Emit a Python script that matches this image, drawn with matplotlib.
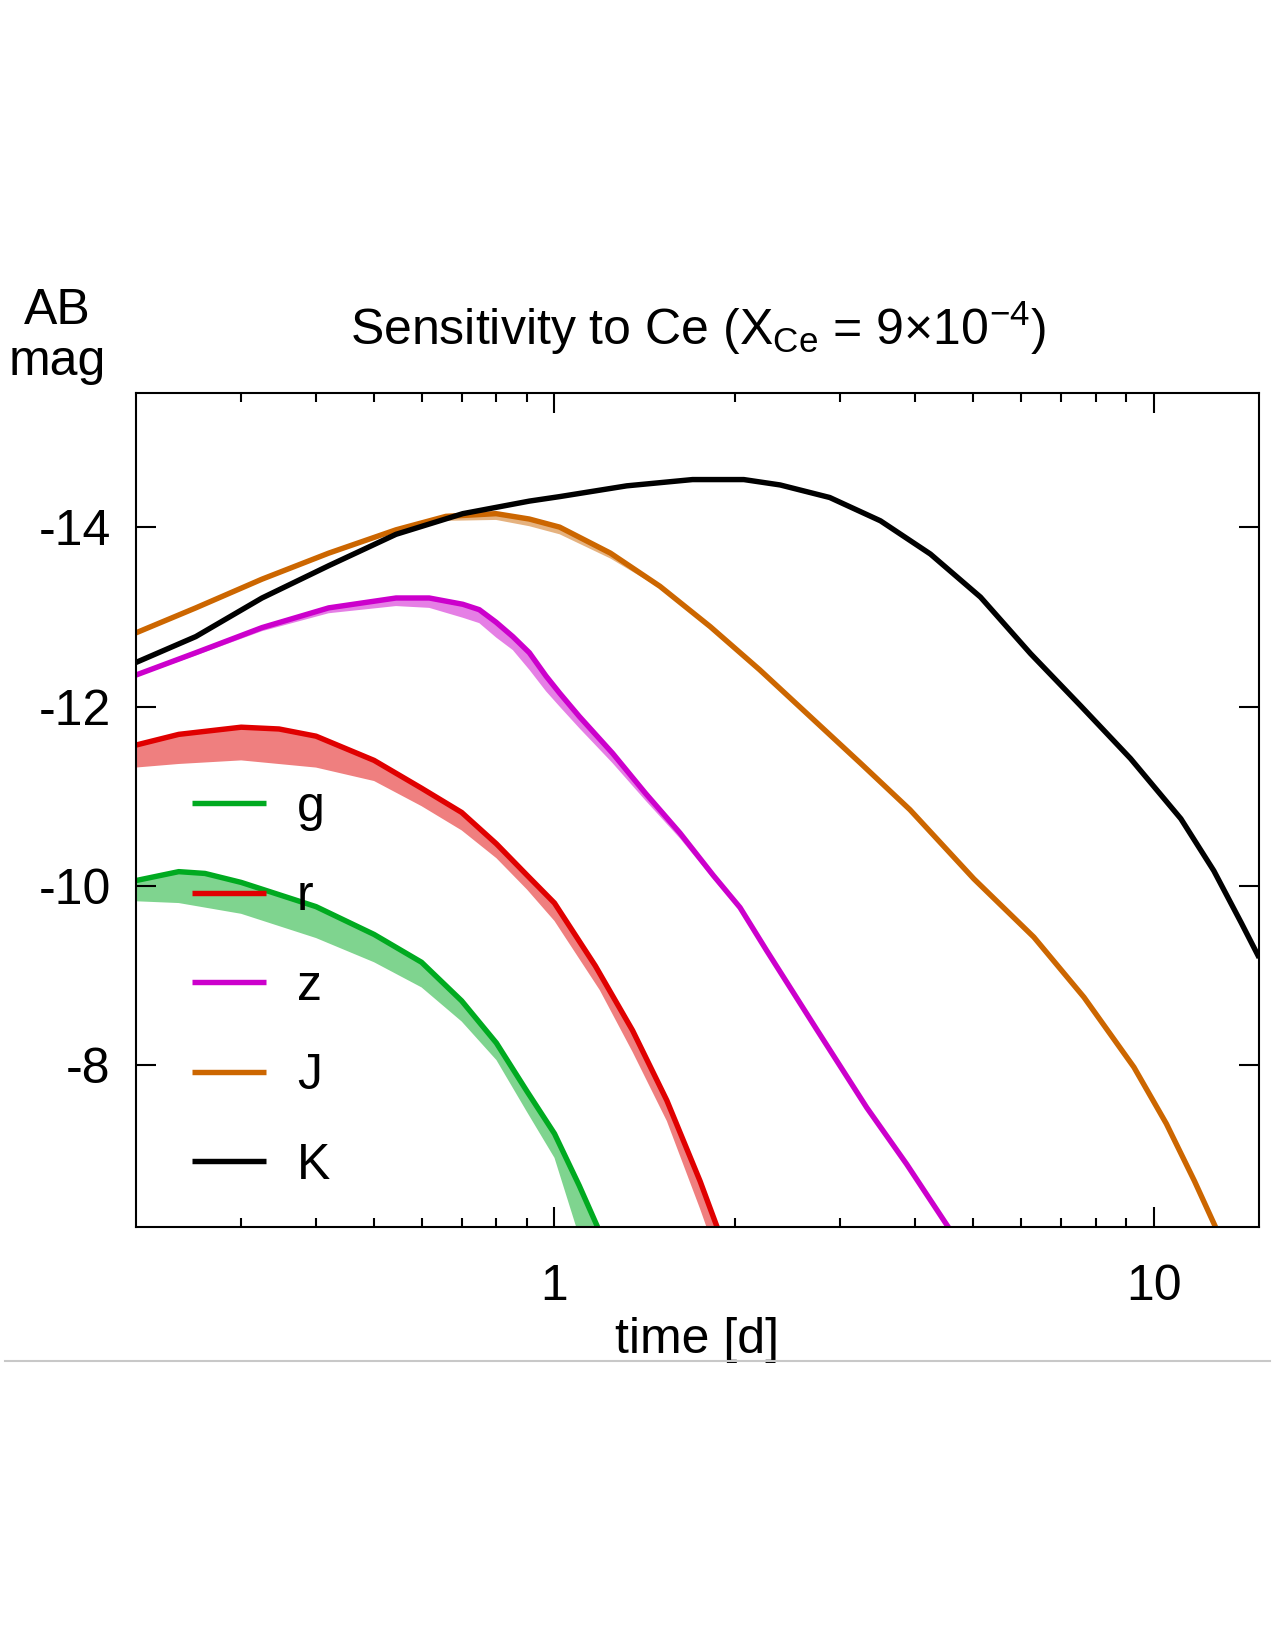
import numpy as np
import matplotlib
matplotlib.use("Agg")
import matplotlib.pyplot as plt
from matplotlib.lines import Line2D
from matplotlib.ticker import FixedLocator, NullFormatter

plt.rcParams["font.family"] = ["Liberation Sans", "DejaVu Sans"]
plt.rcParams["mathtext.fontset"] = "custom"
plt.rcParams["mathtext.rm"] = "Liberation Sans"
plt.rcParams["axes.unicode_minus"] = False

FS = 24

# light curves: time [d], AB mag
G_T = [0.2, 0.236, 0.261, 0.3, 0.4, 0.5, 0.6, 0.7, 0.8, 0.9, 1.0, 1.10, 1.18]
G_MAG = [-10.06, -10.16, -10.14, -10.04, -9.77, -9.46, -9.15, -8.72, -8.25, -7.71, -7.24, -6.66, -6.2]
G_LO_T = [0.2, 0.236, 0.3, 0.4, 0.5, 0.6, 0.7, 0.8, 0.9, 1.0, 1.087]
G_LO = [-9.83, -9.81, -9.69, -9.42, -9.15, -8.87, -8.49, -8.06, -7.48, -6.97, -6.2]

R_T = [0.2, 0.236, 0.3, 0.347, 0.4, 0.5, 0.6, 0.7, 0.8, 0.9, 1.0, 1.17, 1.35, 1.54, 1.75, 1.875]
R_MAG = [-11.57, -11.69, -11.77, -11.75, -11.67, -11.40, -11.09, -10.82, -10.47, -10.12, -9.81,
         -9.11, -8.39, -7.61, -6.71, -6.17]
R_LO_T = [0.2, 0.236, 0.3, 0.4, 0.5, 0.6, 0.7, 0.8, 0.9, 1.0, 1.19, 1.35, 1.54, 1.75, 1.80]
R_LO = [-11.32, -11.36, -11.40, -11.32, -11.17, -10.89, -10.62, -10.31, -9.96, -9.61, -8.84,
        -8.15, -7.38, -6.40, -6.17]

Z_T = [0.2, 0.252, 0.325, 0.42, 0.544, 0.618, 0.703, 0.749, 0.799, 0.852, 0.908, 0.968, 1.02,
       1.10, 1.25, 1.42, 1.62, 1.84, 2.04, 2.26, 2.74, 3.32, 3.87, 4.55]
Z_MAG = [-12.35, -12.60, -12.88, -13.10, -13.21, -13.21, -13.14, -13.08, -12.94, -12.78, -12.60,
         -12.34, -12.15, -11.89, -11.48, -11.03, -10.59, -10.12, -9.76, -9.28, -8.40, -7.53,
         -6.90, -6.19]
Z_LO = [-12.33, -12.57, -12.84, -13.04, -13.12, -13.10, -12.99, -12.93, -12.77, -12.63, -12.41,
        -12.17, -12.00, -11.76, -11.37, -10.95, -10.53, -10.08, -9.73, -9.26, -8.39, -7.53,
        -6.90, -6.19]

J_T = [0.2, 0.252, 0.325, 0.42, 0.544, 0.659, 0.799, 0.908, 1.02, 1.24, 1.50, 1.82, 2.20, 2.67,
       3.24, 3.92, 5.01, 6.31, 7.65, 9.27, 10.5, 11.7, 12.7]
J_MAG = [-12.82, -13.10, -13.42, -13.71, -13.97, -14.12, -14.15, -14.09, -14.00, -13.71, -13.34,
         -12.89, -12.41, -11.89, -11.37, -10.85, -10.08, -9.43, -8.76, -7.98, -7.35, -6.71, -6.19]
J_LO_T = [0.544, 0.659, 0.799, 0.908, 1.02, 1.24, 1.50]
J_LO = [-13.95, -14.07, -14.08, -14.01, -13.92, -13.65, -13.32]

K_T = [0.2, 0.252, 0.325, 0.42, 0.544, 0.703, 0.908, 1.02, 1.32, 1.70, 2.07, 2.38, 2.88, 3.50,
       4.24, 5.14, 6.23, 7.55, 9.15, 11.1, 12.6, 14.0, 15.0]
K_MAG = [-12.49, -12.78, -13.21, -13.57, -13.92, -14.15, -14.29, -14.34, -14.46, -14.53, -14.53,
         -14.47, -14.33, -14.07, -13.70, -13.22, -12.59, -12.01, -11.42, -10.75, -10.17, -9.59,
         -9.2]

BANDS = ["g", "r", "z", "J", "K"]
COLORS = {"g": "#00aa20", "r": "#e00000", "z": "#cc00cc", "J": "#cc6600", "K": "#000000"}

fig = plt.figure(figsize=(8.5, 11), dpi=150)
ax = fig.add_axes([0.1064, 0.2564, 0.8812, 0.5057])

# uncertainty bands (upper edge = main curve)
bands = [("g", G_T, G_MAG, G_LO_T, G_LO),
         ("r", R_T, R_MAG, R_LO_T, R_LO),
         ("z", Z_T, Z_MAG, Z_T, Z_LO),
         ("J", J_T[4:11], J_MAG[4:11], J_LO_T, J_LO)]
for name, t, m, tl, ml in bands:
    ax.fill(np.r_[t, tl[::-1]], np.r_[m, ml[::-1]], color=COLORS[name], alpha=0.5, lw=0)

curves = {"g": (G_T, G_MAG), "r": (R_T, R_MAG), "z": (Z_T, Z_MAG),
          "J": (J_T, J_MAG), "K": (K_T, K_MAG)}
for name in BANDS:
    t, m = curves[name]
    ax.plot(t, m, color=COLORS[name], lw=2.6, label=name,
            solid_capstyle="butt", solid_joinstyle="round")

ax.set_xscale("log")
ax.set_xlim(0.2, 15)
ax.set_ylim(-6.2, -15.5)

ax.set_xticks([1, 10])
ax.set_xticklabels(["1", "10"])
ax.xaxis.set_minor_locator(FixedLocator([0.3, 0.4, 0.5, 0.6, 0.7, 0.8, 0.9,
                                         2, 3, 4, 5, 6, 7, 8, 9]))
ax.xaxis.set_minor_formatter(NullFormatter())
ax.set_yticks([-14, -12, -10, -8])
ax.set_yticklabels(["-14", "-12", "-10", "-8"])

ax.tick_params(which="both", direction="in", top=True, right=True, width=1.0, labelsize=FS)
ax.tick_params(which="major", length=9.5)
ax.tick_params(which="minor", length=4.5)
ax.tick_params(axis="x", pad=18)
ax.tick_params(axis="y", pad=12)
for sp in ax.spines.values():
    sp.set_linewidth(1.0)

ax.set_xlabel("time [d]", fontsize=FS)
ax.xaxis.set_label_coords(0.5, -0.108)

fig.text(0.547, 0.801, r"Sensitivity to Ce (X$_\mathregular{Ce}$ = 9×10$^\mathregular{-4}$)",
         ha="center", va="center", fontsize=FS)
fig.text(0.045, 0.796, "AB\nmag", ha="center", va="center", fontsize=FS, linespacing=1.12)

leg = ax.legend(loc="upper left", bbox_to_anchor=(0.0505, 0.530), frameon=False,
                fontsize=FS, handlelength=1.47, handletextpad=0.62, labelspacing=0.87,
                borderpad=0, borderaxespad=0)
leg.set_zorder(5)

fig.add_artist(Line2D([0.004, 0.996], [0.175, 0.175], color="#c8c8c8", lw=1.0))

fig.savefig("out.png", dpi=150)
